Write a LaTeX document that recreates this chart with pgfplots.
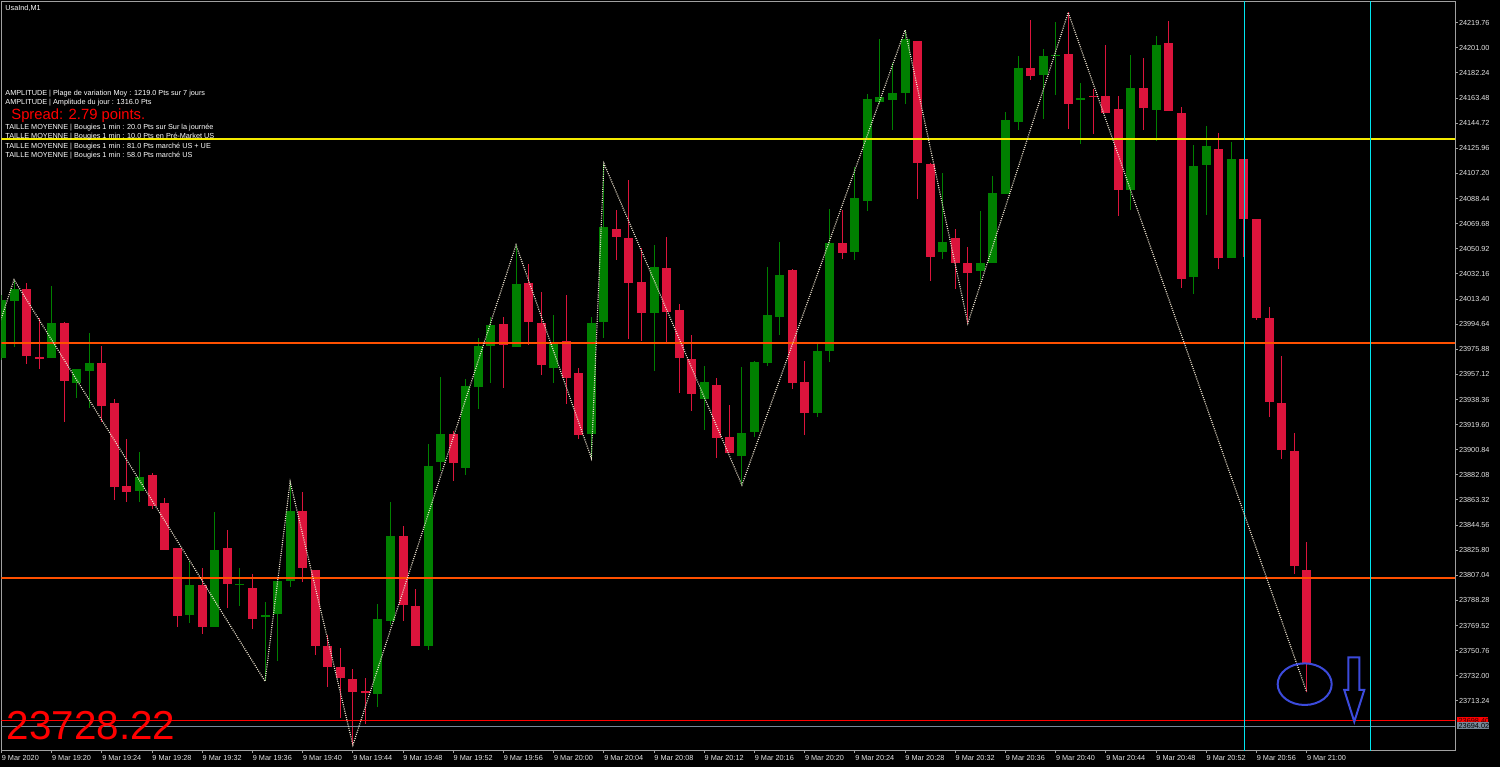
\documentclass[border=0pt]{standalone}
\usepackage{fontspec}
\setmainfont{Liberation Sans}
\usepackage{pgfplots}
\usepackage{pgfplotstable}
\pgfplotsset{compat=1.18}

\definecolor{bull}{RGB}{0,128,0}
\definecolor{bear}{RGB}{220,20,60}
\definecolor{frame}{RGB}{160,160,160}
\definecolor{lvlorange}{RGB}{255,80,0}
\definecolor{lvlyellow}{RGB}{245,235,0}
\definecolor{bidred}{RGB}{255,0,0}
\definecolor{askgray}{RGB}{119,136,153}
\definecolor{vcyan}{RGB}{0,230,240}
\definecolor{zz}{RGB}{235,225,205}
\definecolor{annot}{RGB}{60,75,220}

\newcommand{\mt}{\fontsize{3.65bp}{4.2bp}\selectfont}

% UsaInd M1, 9 Mar 2020 19:16 -> 21:00, i = minutes after 19:16
\pgfplotstableread{
i o h l c
0 23969.13 24016.40 23967.86 24012.67
1 24011.85 24027.83 23978.09 24021.11
2 24021.11 24025.29 23965.17 23971.07
3 23970.00 23999.15 23961.22 23969.30
4 23969.13 24023.13 23969.13 23995.49
5 23995.49 23996.39 23921.86 23952.25
6 23950.84 23961.22 23939.33 23961.22
7 23959.80 23988.47 23932.31 23965.47
8 23965.47 23978.69 23921.86 23933.96
9 23935.67 23938.44 23863.38 23873.24
10 23873.54 23908.94 23862.26 23869.28
11 23869.88 23899.08 23862.26 23880.56
12 23881.68 23883.40 23856.37 23859.20
13 23860.92 23864.80 23826.34 23826.34
14 23827.76 23827.76 23768.69 23777.13
15 23777.13 23817.90 23771.53 23800.21
16 23800.21 23812.83 23763.61 23768.69
17 23768.69 23854.42 23768.69 23826.34
18 23827.76 23840.91 23782.73 23800.21
19 23800.10 23812.83 23784.15 23800.80
20 23797.67 23808.05 23767.27 23774.89
21 23775.73 23787.51 23727.92 23777.13
22 23777.95 23802.97 23743.37 23802.97
23 23802.45 23876.90 23798.19 23854.72
24 23854.72 23869.28 23802.45 23812.23
25 23810.88 23810.88 23747.33 23754.65
26 23754.65 23762.49 23723.73 23738.37
27 23738.89 23753.16 23700.28 23730.30
28 23729.41 23737.40 23680.27 23720.30
29 23720.30 23730.30 23695.95 23719.60
30 23718.88 23786.02 23708.87 23774.59
31 23773.17 23861.74 23770.26 23836.57
32 23836.57 23843.74 23773.17 23785.19
33 23784.60 23796.62 23754.58 23754.58
34 23754.58 23905.21 23751.74 23888.63
35 23891.76 23955.47 23885.19 23912.37
36 23912.37 23914.62 23877.20 23891.17
37 23887.51 23954.05 23881.76 23948.37
38 23948.07 23984.07 23931.19 23978.39
39 23978.09 24000.35 23950.91 23993.78
40 23994.67 24000.35 23946.95 23979.21
41 23977.79 24053.82 23977.79 24024.62
42 24025.22 24039.55 23978.91 23996.09
43 23995.49 24018.64 23956.66 23964.05
44 23961.81 24001.77 23950.91 23980.93
45 23982.35 24016.11 23934.63 23954.05
46 23958.38 23962.34 23908.94 23912.37
47 23912.37 24000.35 23894.60 23995.49
48 23996.09 24114.68 23984.66 24067.56
49 24065.54 24079.81 24042.69 24060.09
50 24058.97 24102.36 23983.77 24025.51
51 24026.41 24051.80 23982.35 24003.26
52 24003.26 24053.82 23959.80 24037.24
53 24036.64 24060.09 23981.75 24004.08
54 24005.20 24009.68 23942.99 23969.13
55 23968.38 23986.53 23929.78 23942.25
56 23938.74 23963.38 23915.59 23951.21
57 23949.19 23954.20 23894.45 23909.39
58 23910.13 23934.26 23898.63 23898.63
59 23896.17 23962.86 23874.51 23913.12
60 23914.32 23967.12 23910.13 23966.59
61 23965.40 24037.54 23963.61 24001.47
62 24000.20 24055.76 23986.53 24031.12
63 24035.07 24035.82 23946.43 23950.91
64 23951.21 23967.12 23911.85 23928.06
65 23928.06 23981.53 23925.52 23974.58
66 23974.58 24080.63 23966.59 24055.76
67 24055.24 24079.88 24043.29 24047.55
68 24048.74 24112.22 24042.54 24089.07
69 24086.83 24166.29 24079.36 24162.55
70 24160.76 24207.58 24158.82 24164.49
71 24162.03 24189.44 24139.63 24167.48
72 24167.48 24214.31 24159.04 24207.36
73 24205.87 24206.32 24088.10 24115.21
74 24114.23 24114.76 24027.08 24045.01
75 24048.74 24107.29 24043.29 24056.21
76 24058.75 24065.47 24020.88 24040.08
77 24040.08 24052.03 23995.27 24033.06
78 24034.33 24079.14 24027.61 24040.08
79 24040.08 24105.27 24040.08 24092.35
80 24091.68 24153.37 24091.68 24147.39
81 24146.05 24194.67 24140.00 24186.38
82 24186.38 24222.07 24177.34 24180.40
83 24181.00 24200.04 24147.69 24195.04
84 24195.30 24220.06 24166.06 24196.00
85 24196.68 24227.37 24140.00 24159.34
86 24162.80 24175.02 24129.32 24163.50
87 24165.30 24170.69 24136.71 24164.60
88 24165.02 24203.40 24152.40 24152.40
89 24155.38 24165.02 24075.70 24095.04
90 24095.04 24195.71 24080.03 24170.69
91 24170.69 24193.40 24140.00 24156.35
92 24155.01 24210.05 24131.34 24203.40
93 24204.67 24220.73 24153.67 24153.67
94 24152.40 24156.73 24021.63 24028.35
95 24030.00 24128.35 24017.30 24112.67
96 24113.34 24142.69 24076.00 24127.38
97 24125.36 24137.68 24035.67 24044.33
98 24044.33 24130.66 24044.33 24118.04
99 24118.04 24118.04 24045.01 24073.01
100 24073.01 24073.01 23998.03 23999.00
101 23999.30 24007.37 23925.67 23936.65
102 23935.67 23971.00 23894.30 23900.65
103 23899.98 23913.35 23808.27 23813.95
104 23811.33 23832.32 23719.92 23741.58
}\candles

\pgfplotsset{
  nomark/.style={only marks, mark=text, text mark={}, unbounded coords=discard},
  level/.style={line width=0.65bp},
}

\begin{document}
\begin{tikzpicture}
\useasboundingbox (0,0) rectangle (750bp,-383.5bp);
\fill[black] (0,0) rectangle (750bp,-383.5bp);

\begin{axis}[
  at={(0.75bp,-375bp)}, anchor=south west,
  scale only axis, width=726.75bp, height=374.5bp,
  xmin=0, xmax=115.82, ymin=23676.61, ymax=24235.96,
  clip mode=individual,
  axis line style={frame, line width=0.5bp},
  every tick/.style={frame, line width=0.5bp},
  tick align=outside, major tick length=1.5bp,
  xtick pos=bottom, ytick pos=right, yticklabel pos=right,
  scaled ticks=false,
  xtick={0,4,...,104},
  xticklabels={9 Mar 2020, 9 Mar 19:20, 9 Mar 19:24, 9 Mar 19:28, 9 Mar 19:32,
    9 Mar 19:36, 9 Mar 19:40, 9 Mar 19:44, 9 Mar 19:48, 9 Mar 19:52,
    9 Mar 19:56, 9 Mar 20:00, 9 Mar 20:04, 9 Mar 20:08, 9 Mar 20:12,
    9 Mar 20:16, 9 Mar 20:20, 9 Mar 20:24, 9 Mar 20:28, 9 Mar 20:32,
    9 Mar 20:36, 9 Mar 20:40, 9 Mar 20:44, 9 Mar 20:48, 9 Mar 20:52,
    9 Mar 20:56, 9 Mar 21:00},
  ytick={23713.24,23732.00,23750.76,23769.52,23788.28,23807.04,23825.80,
    23844.56,23863.32,23882.08,23900.84,23919.60,23938.36,23957.12,
    23975.88,23994.64,24013.40,24032.16,24050.92,24069.68,24088.44,
    24107.20,24125.96,24144.72,24163.48,24182.24,24201.00,24219.76},
  yticklabels={23713.24,23732.00,23750.76,23769.52,23788.28,23807.04,23825.80,
    23844.56,23863.32,23882.08,23900.84,23919.60,23938.36,23957.12,
    23975.88,23994.64,24013.40,24032.16,24050.92,24069.68,24088.44,
    24107.20,24125.96,24144.72,24163.48,24182.24,24201.00,24219.76},
  ticklabel style={font=\mt, text=white!90!black, inner sep=0pt},
  xticklabel style={anchor=north west, yshift=-1bp},
  yticklabel style={anchor=west, xshift=0.3bp},
]

% bullish candles: wick, then body
\addplot[nomark,
  restrict expr to domain={\thisrow{c}-\thisrow{o}}{0:2000},
  error bars/.cd, y dir=both, y explicit, error mark=none,
  error bar style={bull, line width=0.5bp}]
  table[x=i, y expr={(\thisrow{h}+\thisrow{l})/2},
    y error expr={(\thisrow{h}-\thisrow{l})/2}] {\candles};
\addplot[nomark,
  restrict expr to domain={\thisrow{c}-\thisrow{o}}{0:2000},
  error bars/.cd, y dir=both, y explicit, error mark=none,
  error bar style={bull, line width=4.5bp}]
  table[x=i, y expr={(\thisrow{o}+\thisrow{c})/2},
    y error expr={max(abs(\thisrow{c}-\thisrow{o})/2,0.4)}] {\candles};

% bearish candles
\addplot[nomark,
  restrict expr to domain={\thisrow{c}-\thisrow{o}}{-2000:0},
  error bars/.cd, y dir=both, y explicit, error mark=none,
  error bar style={bear, line width=0.5bp}]
  table[x=i, y expr={(\thisrow{h}+\thisrow{l})/2},
    y error expr={(\thisrow{h}-\thisrow{l})/2}] {\candles};
\addplot[nomark,
  restrict expr to domain={\thisrow{c}-\thisrow{o}}{-2000:0},
  error bars/.cd, y dir=both, y explicit, error mark=none,
  error bar style={bear, line width=4.5bp}]
  table[x=i, y expr={(\thisrow{o}+\thisrow{c})/2},
    y error expr={max(abs(\thisrow{c}-\thisrow{o})/2,0.4)}] {\candles};

% horizontal levels
\addplot[level, color=lvlyellow] coordinates {(-2,24132.90) (120,24132.90)};
\addplot[level, color=lvlorange] coordinates {(-2,23980.56) (120,23980.56)};
\addplot[level, color=lvlorange] coordinates {(-2,23805.06) (120,23805.06)};
\addplot[level, color=bidred] coordinates {(-2,23698.40) (120,23698.40)};
\addplot[level, color=askgray] coordinates {(-2,23694.02) (120,23694.02)};

% vertical separators
\addplot[level, color=vcyan] coordinates {(99.04,23600) (99.04,24300)};
\addplot[level, color=vcyan] coordinates {(109.08,23600) (109.08,24300)};

% zigzag
\addplot[zz, line width=0.6bp, dash pattern=on 0.5bp off 0.6bp] coordinates {
  (-1,23971.07) (1,24027.83) (21,23727.92) (23,23876.90) (28,23680.27)
  (41,24053.82) (47,23894.60) (48,24114.68) (59,23874.51) (72,24214.31)
  (77,23995.27) (85,24227.37) (104,23719.92)};
\end{axis}

\begin{scope}[x=0.5bp, y=-0.5bp]
  % price boxes on the scale
  \fill[bidred] (1456.7,716.7) rectangle (1488.5,724.7);
  \node[anchor=base west, inner sep=0pt, font=\mt, text=black!80!red] at (1458.3,723.5) {23698.40};
  \fill[askgray] (1456.7,721.9) rectangle (1489.3,729.5);
  \node[anchor=base west, inner sep=0pt, font=\mt, text=black] at (1458.3,728.4) {23694.02};

  % annotations
  \draw[annot, line width=1bp] (1304.7,684.2) ellipse [x radius=27, y radius=20.8];
  \draw[annot, line width=1bp, line join=miter]
    (1348.3,657.3) -- (1359.3,657.3) -- (1359.3,690) -- (1364.3,690)
    -- (1354.3,721.7) -- (1344.3,690) -- (1348.3,690) -- cycle;

  % chart texts
  \node[anchor=base west, inner sep=0pt, font=\mt, text=white] at (5,10) {UsaInd,M1};
  \node[anchor=base west, inner sep=0pt, font=\mt, text=white] at (5,95.5)
    {AMPLITUDE | Plage de variation Moy : 1219.0 Pts sur 7 jours};
  \node[anchor=base west, inner sep=0pt, font=\mt, text=white] at (5,105)
    {AMPLITUDE | Amplitude du jour : 1316.0 Pts};
  \node[anchor=base west, inner sep=0pt, text=bidred,
    font=\fontsize{7.4bp}{8bp}\selectfont] at (11,119.3) {Spread: 2.79 points.};
  \node[anchor=base west, inner sep=0pt, font=\mt, text=white] at (5,129.3)
    {TAILLE MOYENNE | Bougies 1 min : 20.0 Pts sur Sur la journée};
  \node[anchor=base west, inner sep=0pt, font=\mt, text=white] at (5,138.7)
    {TAILLE MOYENNE | Bougies 1 min : 10.0 Pts en Pré-Market US};
  \node[anchor=base west, inner sep=0pt, font=\mt, text=white] at (5,148.3)
    {TAILLE MOYENNE | Bougies 1 min : 81.0 Pts marché US + UE};
  \node[anchor=base west, inner sep=0pt, font=\mt, text=white] at (5,157.7)
    {TAILLE MOYENNE | Bougies 1 min : 58.0 Pts marché US};
  \node[anchor=base west, inner sep=0pt, text=bidred,
    font=\fontsize{20.2bp}{22bp}\selectfont] at (6.5,740) {23728.22};
\end{scope}
\end{tikzpicture}
\end{document}
